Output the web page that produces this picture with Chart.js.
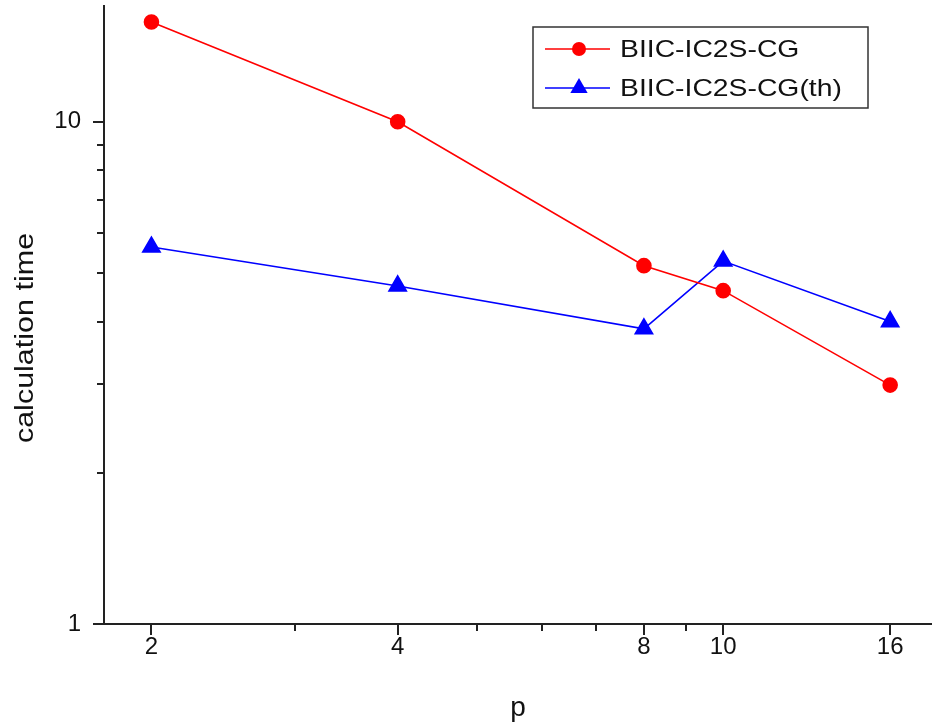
<!DOCTYPE html>
<html>
<head>
<meta charset="utf-8">
<script src="https://cdn.jsdelivr.net/npm/chart.js@4.4.1/dist/chart.umd.min.js"></script>
<style>
  html, body { margin: 0; padding: 0; background: #fff; }
</style>
</head>
<body>
<canvas id="moncanvas" width="932" height="722"></canvas>
<script>
// values
const pValues = [2, 4, 8, 10, 16];
const biicTimes = [15.8, 10.0, 5.17, 4.61, 2.99];
const biicThTimes = [5.63, 4.71, 3.87, 5.28, 4.0];

const xMajor = [2, 4, 8, 10, 16];
const xMinor = [3, 5, 6, 7, 9];
const yMajor = [1, 10];
const yMinor = [2, 3, 4, 5, 6, 7, 8, 9];

const labels = ['BIIC-IC2S-CG', 'BIIC-IC2S-CG(th)'];
const xTitle = 'p';
const yTitle = 'calculation time';

const font = '"Liberation Sans", Arial, sans-serif';

function points(ys) {
    return pValues.map((p, i) => ({ x: p, y: ys[i] }));
}

// ticks drawn by hand (major long, minor short)
const tickMarks = {
    id: 'tickMarks',
    afterDraw(chart) {
        const ctx = chart.ctx;
        const xs = chart.scales.x;
        const ys = chart.scales.y;
        const area = chart.chartArea;
        ctx.save();
        ctx.strokeStyle = '#222';
        ctx.lineWidth = 2;
        ctx.beginPath();
        for (const v of xMajor) {
            const px = Math.round(xs.getPixelForValue(v));
            ctx.moveTo(px, area.bottom);
            ctx.lineTo(px, area.bottom + 11);
        }
        for (const v of xMinor) {
            const px = Math.round(xs.getPixelForValue(v));
            ctx.moveTo(px, area.bottom);
            ctx.lineTo(px, area.bottom + 7);
        }
        for (const v of yMajor) {
            const py = Math.round(ys.getPixelForValue(v));
            ctx.moveTo(area.left, py);
            ctx.lineTo(area.left - 11, py);
        }
        for (const v of yMinor) {
            const py = Math.round(ys.getPixelForValue(v));
            ctx.moveTo(area.left, py);
            ctx.lineTo(area.left - 7, py);
        }
        ctx.stroke();

        // y title, a bit lower than centre like the original
        ctx.save();
        ctx.translate(26, 338);
        ctx.rotate(-Math.PI / 2);
        ctx.scale(1.22, 1);
        ctx.fillStyle = '#111';
        ctx.font = '25px ' + font;
        ctx.textAlign = 'center';
        ctx.textBaseline = 'middle';
        ctx.fillText(yTitle, 0, 0);
        ctx.restore();
        ctx.restore();
    }
};

// boxed legend inside the plot, like the original
const boxLegend = {
    id: 'boxLegend',
    afterDraw(chart) {
        const ctx = chart.ctx;
        const x0 = 533, y0 = 27, w = 335, h = 81;
        ctx.save();
        ctx.strokeStyle = '#333';
        ctx.lineWidth = 1.5;
        ctx.strokeRect(x0, y0, w, h);
        const rows = [49, 88];
        chart.data.datasets.forEach((ds, i) => {
            const cy = rows[i];
            ctx.strokeStyle = ds.borderColor;
            ctx.lineWidth = 1.5;
            ctx.beginPath();
            ctx.moveTo(545, cy);
            ctx.lineTo(610, cy);
            ctx.stroke();
            ctx.fillStyle = ds.pointBackgroundColor;
            ctx.beginPath();
            if (ds.pointStyle === 'circle') {
                ctx.arc(579, cy, ds.pointRadius, 0, Math.PI * 2);
            } else {
                const r = ds.pointRadius;
                ctx.moveTo(579, cy - r);
                ctx.lineTo(579 + r * 0.866, cy + r * 0.5);
                ctx.lineTo(579 - r * 0.866, cy + r * 0.5);
                ctx.closePath();
            }
            ctx.fill();
            ctx.save();
            ctx.translate(620, cy);
            ctx.scale(1.18, 1);
            ctx.fillStyle = '#111';
            ctx.font = '24px ' + font;
            ctx.textBaseline = 'middle';
            ctx.fillText(ds.label, 0, 1);
            ctx.restore();
        });
        ctx.restore();
    }
};

const data = {
    datasets: [{
        label: labels[0],
        data: points(biicTimes),
        borderColor: 'rgb(255, 0, 0)',
        backgroundColor: 'rgb(255, 0, 0)',
        pointBackgroundColor: 'rgb(255, 0, 0)',
        pointBorderColor: 'rgb(255, 0, 0)',
        pointStyle: 'circle',
        pointRadius: 7,
        borderWidth: 1.6,
        tension: 0
    }, {
        label: labels[1],
        data: points(biicThTimes),
        borderColor: 'rgb(0, 0, 255)',
        backgroundColor: 'rgb(0, 0, 255)',
        pointBackgroundColor: 'rgb(0, 0, 255)',
        pointBorderColor: 'rgb(0, 0, 255)',
        pointStyle: 'triangle',
        pointRadius: 10,
        borderWidth: 1.6,
        tension: 0
    }]
};

const config = {
    type: 'line',
    data: data,
    plugins: [tickMarks, boxLegend],
    options: {
        responsive: false,
        animation: false,
        layout: { autoPadding: false, padding: { top: 6, right: 0, left: 0, bottom: 0 } },
        plugins: {
            legend: { display: false },
            tooltip: { enabled: false }
        },
        scales: {
            x: {
                type: 'logarithmic',
                min: 1.75,
                max: 18,
                afterBuildTicks(scale) {
                    scale.ticks = xMajor.map(v => ({ value: v }));
                },
                afterFit(scale) {
                    scale.height = 98;
                    scale.paddingLeft = 0;
                    scale.paddingRight = 0;
                },
                grid: { display: false, drawTicks: false },
                border: { display: true, color: '#222', width: 2 },
                ticks: {
                    autoSkip: false,
                    maxRotation: 0,
                    padding: 9,
                    color: '#111',
                    font: { family: font, size: 24 },
                    callback: v => String(v)
                },
                title: {
                    display: true,
                    text: xTitle,
                    color: '#111',
                    font: { family: font, size: 28 },
                    padding: { top: 0, bottom: -3 }
                }
            },
            y: {
                type: 'logarithmic',
                min: 1,
                max: 17,
                afterBuildTicks(scale) {
                    scale.ticks = yMajor.map(v => ({ value: v }));
                },
                afterFit(scale) {
                    scale.width = 104;
                    scale.paddingTop = 0;
                    scale.paddingBottom = 0;
                },
                grid: { display: false, drawTicks: false },
                border: { display: true, color: '#222', width: 2 },
                ticks: {
                    autoSkip: false,
                    padding: 23,
                    color: '#111',
                    font: { family: font, size: 24 },
                    callback: v => String(v)
                },
                title: { display: false }
            }
        }
    }
};

const myChart = new Chart(document.querySelector('#moncanvas'), config);
</script>
</body>
</html>
